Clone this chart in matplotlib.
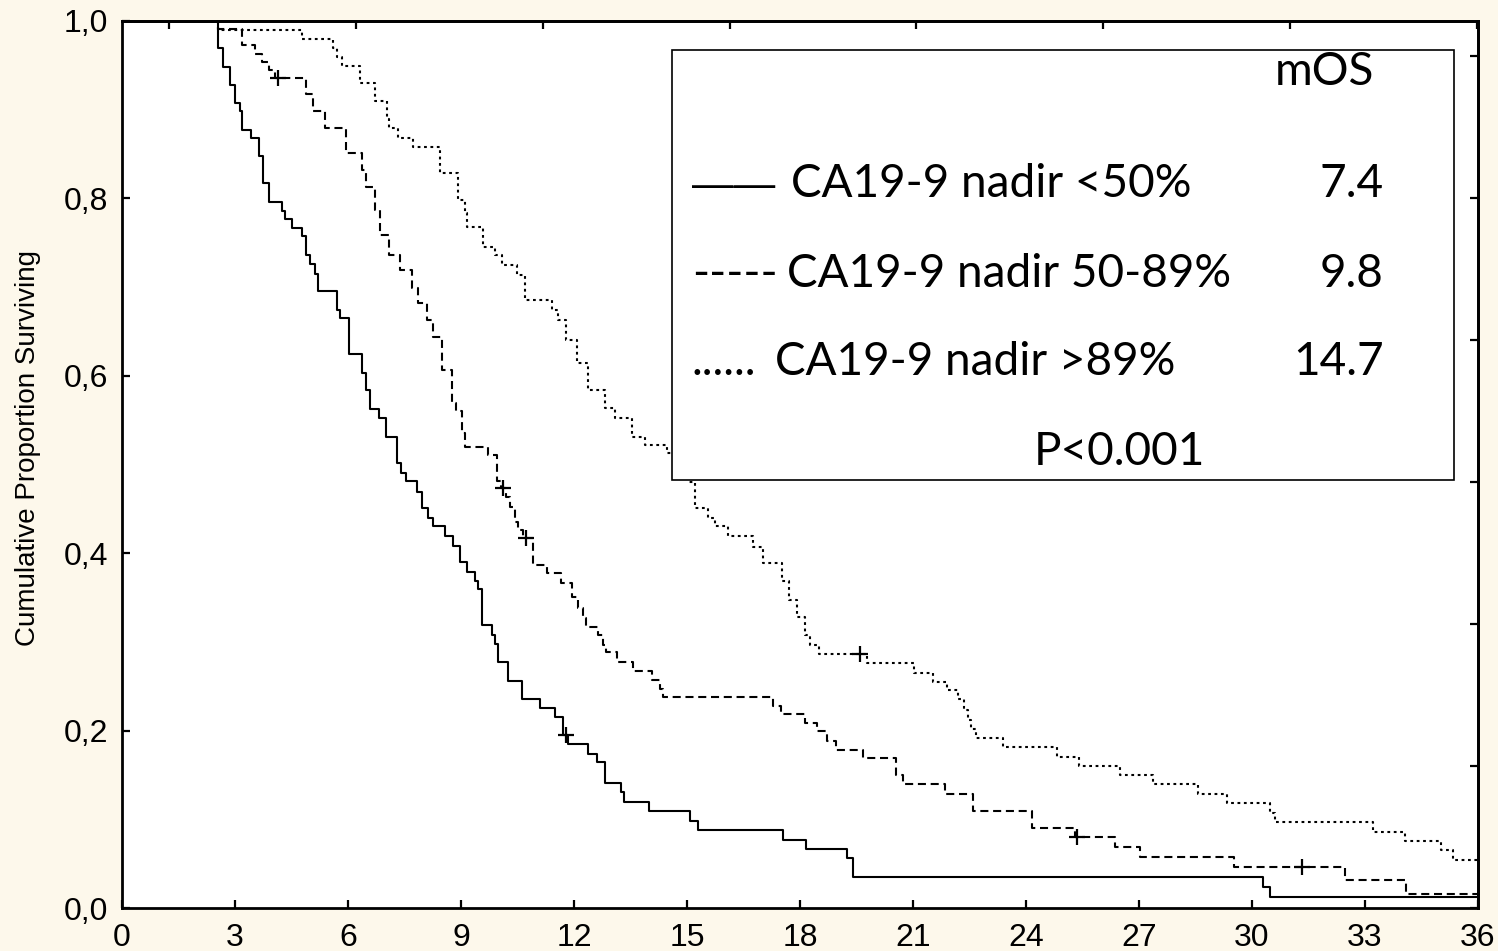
import matplotlib
matplotlib.use("Agg")
import matplotlib.pyplot as plt
from matplotlib.patches import Rectangle
import numpy as np

# ---------------- data ----------------
# Kaplan-Meier steps: event time (months) and survival after the drop
t_lt50 = [2.54, 2.69, 2.88, 3.00, 3.12, 3.18, 3.42, 3.65, 3.75, 3.91, 4.24, 4.33,
          4.50, 4.77, 4.88, 4.99, 5.12, 5.21, 5.70, 5.79, 6.03, 6.38, 6.49, 6.58,
          6.82, 7.00, 7.31, 7.42, 7.54, 7.82, 7.96, 8.13, 8.25, 8.57, 8.80, 8.97,
          9.15, 9.37, 9.46, 9.55, 9.81, 9.90, 9.99, 10.25, 10.61, 11.10, 11.49,
          11.70, 11.85, 12.38, 12.62, 12.82, 13.24, 13.33, 14.00, 15.08, 15.30,
          17.54, 18.16, 19.26, 19.41, 30.29, 30.48]
s_lt50 = [0.969, 0.948, 0.928, 0.907, 0.898, 0.877, 0.868, 0.847, 0.817, 0.796, 0.785, 0.776,
          0.766, 0.757, 0.736, 0.726, 0.715, 0.695, 0.674, 0.665, 0.624, 0.603, 0.584, 0.5625,
          0.552, 0.531, 0.501, 0.490, 0.481, 0.469, 0.451, 0.439, 0.430, 0.419, 0.408, 0.390,
          0.379, 0.368, 0.359, 0.319, 0.308, 0.297, 0.277, 0.256, 0.236, 0.2255, 0.2156,
          0.195, 0.185, 0.174, 0.164, 0.141, 0.131, 0.120, 0.109, 0.098, 0.088,
          0.077, 0.0665, 0.056, 0.0345, 0.024, 0.0124]
cens_lt50 = [11.79]

t_50_89 = [2.55, 3.18, 3.53, 3.71, 3.91, 4.05, 4.88, 5.08, 5.39, 5.95, 6.36, 6.49,
           6.72, 6.85, 7.10, 7.38, 7.69, 7.87, 8.09, 8.26, 8.49, 8.75, 8.88, 9.02,
           9.11, 9.72, 9.95, 10.05, 10.20, 10.30, 10.43, 10.52, 10.65, 10.90, 11.27,
           11.65, 11.96, 12.11, 12.25, 12.33, 12.65, 12.78, 12.85, 13.13, 13.57, 14.06,
           14.28, 14.37, 17.29, 17.50, 18.13, 18.44, 18.71, 18.95, 19.68, 20.56, 20.74,
           21.85, 22.60, 24.15, 25.30, 26.36, 27.02, 29.52, 32.47, 34.10]
s_50_89 = [0.991, 0.973, 0.962, 0.954, 0.945, 0.935, 0.917, 0.898, 0.879, 0.851, 0.832, 0.813,
           0.787, 0.759, 0.736, 0.719, 0.699, 0.682, 0.663, 0.644, 0.6065, 0.569, 0.560, 0.5355,
           0.520, 0.5107, 0.481, 0.473, 0.4636, 0.452, 0.435, 0.426, 0.4167, 0.387, 0.377,
           0.366, 0.351, 0.338, 0.327, 0.317, 0.3078, 0.2965, 0.288, 0.2776, 0.2675, 0.257,
           0.2465, 0.238, 0.228, 0.2187, 0.208, 0.199, 0.1886, 0.178, 0.1695, 0.150, 0.1394,
           0.129, 0.109, 0.0897, 0.0796, 0.069, 0.057, 0.0458, 0.0316, 0.0158]
cens_50_89 = [4.15, 10.12, 10.72, 25.36, 31.32]

t_gt89 = [2.55, 4.77, 5.61, 5.70, 5.83, 6.32, 6.72, 7.03, 7.10, 7.34, 7.73, 8.44,
          8.93, 9.10, 9.15, 9.59, 9.90, 10.08, 10.48, 10.70, 11.41, 11.58, 11.80, 12.07,
          12.38, 12.82, 13.09, 13.53, 13.88, 14.46, 14.80, 15.04, 15.20, 15.56, 15.74,
          16.10, 16.76, 17.03, 17.51, 17.72, 17.91, 18.13, 18.26, 18.50, 19.77, 21.03,
          21.52, 21.89, 22.20, 22.35, 22.45, 22.55, 22.67, 23.40, 24.81, 25.41, 26.49,
          27.38, 28.57, 29.33, 30.48, 30.60, 33.22, 34.06, 35.03, 35.34]
s_gt89 = [0.990, 0.979, 0.969, 0.959, 0.949, 0.930, 0.909, 0.889, 0.879, 0.868, 0.858, 0.828,
          0.798, 0.783, 0.768, 0.745, 0.736, 0.725, 0.7136, 0.685, 0.674, 0.663, 0.640, 0.614,
          0.584, 0.563, 0.552, 0.531, 0.522, 0.5125, 0.500, 0.4805, 0.4505, 0.439, 0.430,
          0.419, 0.407, 0.3885, 0.368, 0.347, 0.3284, 0.3078, 0.2965, 0.286, 0.276, 0.265,
          0.255, 0.2458, 0.235, 0.223, 0.212, 0.202, 0.192, 0.182, 0.1706, 0.160, 0.150,
          0.1398, 0.1285, 0.118, 0.107, 0.0973, 0.086, 0.0758, 0.0654, 0.054]
cens_gt89 = [19.60]

group_labels = ["CA19-9 nadir <50%", "CA19-9 nadir 50-89%", "CA19-9 nadir >89%"]
legend_glyphs = ["——", "-----", "......"]
mos_values = ["7.4", "9.8", "14.7"]
mos_header = "mOS"
p_text = "P<0.001"
y_label = "Cumulative Proportion Surviving"

x_ticks = [0, 3, 6, 9, 12, 15, 18, 21, 24, 27, 30, 33, 36]
x_ticklabels = ["0", "3", "6", "9", "12", "15", "18", "21", "24", "27", "30", "33", "36"]
y_ticks = [0.0, 0.2, 0.4, 0.6, 0.8, 1.0]
y_ticklabels = ["0,0", "0,2", "0,4", "0,6", "0,8", "1,0"]
top_ticks = [1.25, 6.21, 11.17, 16.13, 21.09, 26.05, 31.01, 35.97]
right_ticks = [0.0, 0.16, 0.32, 0.48, 0.64, 0.80, 0.96]
t_max = 36

# ---------------- figure ----------------
W, H = 1498, 951
BG = "#FDF8EB"
plt.rcParams["lines.scale_dashes"] = False

fig = plt.figure(figsize=(W / 100, H / 100), dpi=100, facecolor=BG)


def fx(x):
    return x / W


def fy(y):
    return 1 - y / H


ax = fig.add_axes([fx(122), fy(908), (1478 - 122) / W, (908 - 20.7) / H])
ax.set_facecolor("white")
ax.set_xlim(0, t_max)
ax.set_ylim(0, 1)

styles = [
    dict(linestyle="-"),
    dict(linestyle=(0, (5.8, 3.4))),
    dict(linestyle=(0, (2.0, 2.6))),
]
series = [(t_lt50, s_lt50, cens_lt50), (t_50_89, s_50_89, cens_50_89), (t_gt89, s_gt89, cens_gt89)]

for (tt, ss, cc), st in zip(series, styles):
    xs = [0.0] + list(tt) + [t_max]
    ys = [1.0] + list(ss) + [ss[-1]]
    ax.step(xs, ys, where="post", color="black", lw=1.5, zorder=3, **st)
    # censor marks on the curve
    tt_arr = np.array(tt)
    ss_arr = np.array(ss)
    cy = []
    for c in cc:
        idx = np.searchsorted(tt_arr, c, side="right") - 1
        cy.append(1.0 if idx < 0 else ss_arr[idx])
    ax.plot(cc, cy, linestyle="none", marker="+", ms=11, mew=1.6, color="black", zorder=4)

for sp in ax.spines.values():
    sp.set_linewidth(2.0)

ax.set_xticks(x_ticks)
ax.set_xticklabels(x_ticklabels)
ax.set_yticks(y_ticks)
ax.set_yticklabels(y_ticklabels)
ax.tick_params(axis="both", direction="in", length=6, width=1.6, labelsize=23, colors="black")
ax.tick_params(axis="y", pad=10)
ax.tick_params(axis="x", pad=11)
for lab in ax.get_xticklabels() + ax.get_yticklabels():
    lab.set_family("Liberation Sans")

top = ax.secondary_xaxis("top")
top.set_xticks(top_ticks)
top.set_xticklabels([])
top.tick_params(direction="in", length=6, width=1.6)
top.spines["top"].set_linewidth(2.0)

right = ax.secondary_yaxis("right")
right.set_yticks(right_ticks)
right.set_yticklabels([])
right.tick_params(direction="in", length=6, width=1.6)
right.spines["right"].set_linewidth(2.0)

fig.text(fx(28), fy(448), y_label, rotation=90, ha="center", va="center",
         fontsize=20, family="Liberation Sans", color="black")

# ---------------- legend box (text-style legend) ----------------
box = Rectangle((fx(672), fy(480)), (1454 - 672) / W, (480 - 50) / H,
                transform=fig.transFigure, facecolor="white", edgecolor="black",
                lw=1.2, zorder=5)
fig.add_artist(box)

LF = "Lato"
LS = 33
glyph_font = ["Liberation Sans", "Lato", "Lato"]
glyph_size = [30, LS, LS]
fig.text(fx(1275), fy(85), mos_header, ha="left", va="baseline", fontsize=LS, family=LF, zorder=6)
baselines = [196.7, 286.7, 375.0]
label_left = [791, 787, 775]
for i in range(3):
    fig.text(fx(692), fy(baselines[i]), legend_glyphs[i], ha="left", va="baseline",
             fontsize=glyph_size[i], family=glyph_font[i], zorder=6)
    fig.text(fx(label_left[i]), fy(baselines[i]), group_labels[i], ha="left", va="baseline",
             fontsize=LS, family=LF, zorder=6)
    fig.text(fx(1384), fy(baselines[i]), mos_values[i], ha="right", va="baseline",
             fontsize=LS, family=LF, zorder=6)
fig.text(fx(1034), fy(465), p_text, ha="left", va="baseline", fontsize=LS, family=LF, zorder=6)

fig.savefig("out.png", dpi=100, facecolor=BG)
